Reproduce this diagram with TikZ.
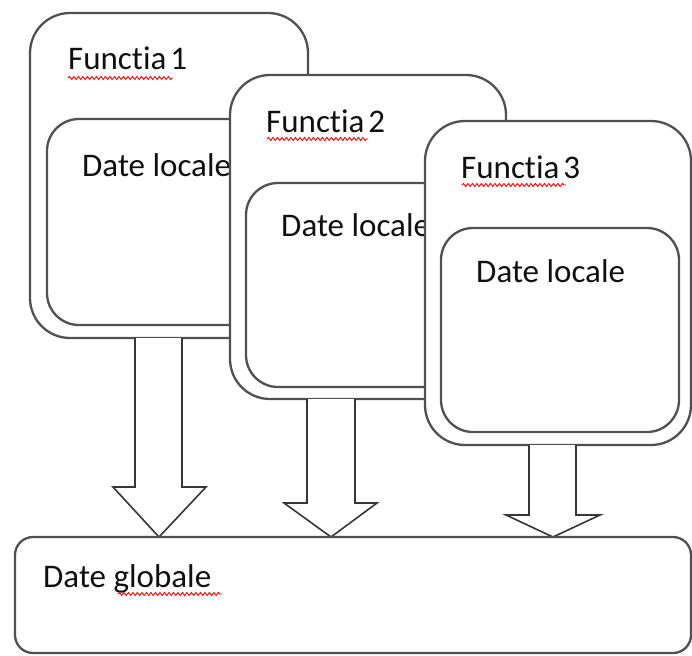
\documentclass[tikz,border=0pt]{standalone}
\usepackage{fontspec}
\setmainfont{Carlito}[Ligatures={NoCommon,NoRare}]
\usetikzlibrary{decorations.pathmorphing}
\definecolor{boxgray}{HTML}{505050}
\definecolor{arrowgray}{HTML}{363636}
\definecolor{textdark}{HTML}{101010}
\begin{document}
\begin{tikzpicture}[x=1pt,y=-1pt,
  outerbox/.style={draw=boxgray, line width=2.3pt, fill=white, rounded corners=40pt,
                   anchor=north west, inner sep=0pt, outer sep=0pt},
  innerbox/.style={draw=boxgray, line width=2.3pt, fill=white, rounded corners=32pt,
                   anchor=north west, inner sep=0pt, outer sep=0pt},
  flatbox/.style={draw=boxgray, line width=2.3pt, fill=white, rounded corners=18pt,
                  anchor=north west, inner sep=0pt, outer sep=0pt},
  txt/.style={anchor=base west, inner sep=0pt, text=textdark,
              font=\fontsize{33}{40}\selectfont},
  blockarrow/.style={draw=arrowgray, line width=1.6pt, fill=white, line join=miter},
  squiggle/.style={draw=red, line width=0.9pt, decorate,
                   decoration={snake, amplitude=1.5pt, segment length=4.5pt}}
]
\useasboundingbox (0,0) rectangle (692,655);

% Functia 1
\node[outerbox, minimum width=278pt, minimum height=325pt] (f1) at (30,13) {};
\node[innerbox, minimum width=220pt, minimum height=206pt] (l1) at (47,119) {};
\node[txt] (t1) at (68,70) {Functia\hspace{0.12em}1};
\node[txt] (d1) at (82,176) {Date locale};
\draw[squiggle] (68,78) -- (173,78);

% Functia 2
\node[outerbox, minimum width=276pt, minimum height=324pt] (f2) at (230,75) {};
\node[innerbox, minimum width=220pt, minimum height=204pt] (l2) at (246,183) {};
\node[txt] (t2) at (266,132) {Functia\hspace{0.12em}2};
\node[txt] (d2) at (281,236) {Date locale};
\draw[squiggle] (267,139) -- (368,139);

% Functia 3
\node[outerbox, minimum width=266pt, minimum height=324pt] (f3) at (425,121) {};
\node[innerbox, minimum width=238pt, minimum height=204pt] (l3) at (441,228) {};
\node[txt] (t3) at (461,178) {Functia\hspace{0.12em}3};
\node[txt] (d3) at (476,282) {Date locale};
\draw[squiggle] (462,185) -- (566,185);

% block arrows down to the global data
\draw[blockarrow] (135,338) -- (135,487) -- (113,487) -- (159,537)
                  -- (206,487) -- (182,487) -- (182,338);
\draw[blockarrow] (307,399) -- (307,503) -- (284,503) -- (331,537)
                  -- (377,503) -- (355,503) -- (355,399);
\draw[blockarrow] (529,445) -- (529,515) -- (506,515) -- (553,537)
                  -- (600,515) -- (576,515) -- (576,445);

% global data
\node[flatbox, minimum width=676pt, minimum height=116pt] (g) at (15,537) {};
\node[txt] (tg) at (43,587) {Date globale};
\draw[squiggle] (118,594) -- (222,594);
\end{tikzpicture}
\end{document}
